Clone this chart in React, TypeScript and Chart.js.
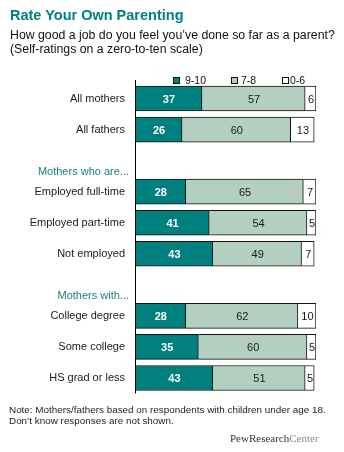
import React, { useEffect, useRef } from "react";
import { Chart, registerables } from "chart.js";

Chart.register(...registerables);

// ---- data ----
const categories = [
  "All mothers",
  "All fathers",
  "",
  "Employed full-time",
  "Employed part-time",
  "Not employed",
  "",
  "College degree",
  "Some college",
  "HS grad or less",
];
const sectionHeaders = ["", "", "Mothers who are...", "", "", "", "Mothers with...", "", "", ""];
const seriesNames = ["9-10", "7-8", "0-6"];
const rating9to10 = [37, 26, null, 28, 41, 43, null, 28, 35, 43];
const rating7to8 = [57, 60, null, 65, 54, 49, null, 62, 60, 51];
const rating0to6 = [6, 13, null, 7, 5, 7, null, 10, 5, 5];

const titleText = "Rate Your Own Parenting";
const subtitleLines = [
  "How good a job do you feel you\u2019ve done so far as a parent?",
  "(Self-ratings on a zero-to-ten scale)",
];
const noteLines = [
  "Note: Mothers/fathers based on respondents with children under age 18.",
  "Don\u2019t know responses are not shown.",
];

// ---- styles ----
const TEAL = "#007f7f";
const seriesColors = [TEAL, "#b3cfbf", "#ffffff"];
const valueColors = ["#ffffff", "#1a1a1a", "#1a1a1a"];
const legendBoxX = [173, 231, 282];
const legendTextX = [185, 241, 290];
const SANS = '"Liberation Sans", Arial, sans-serif';

const overlayPlugin = {
  id: "overlay",
  afterDatasetsDraw(chart: any) {
    const ctx = chart.ctx;
    const { left, top, bottom } = chart.chartArea;
    ctx.save();
    ctx.strokeStyle = "#000";
    ctx.lineWidth = 1;
    ctx.beginPath();
    ctx.moveTo(left + 0.5, top - 3);
    ctx.lineTo(left + 0.5, bottom);
    ctx.stroke();

    chart.data.datasets.forEach((ds: any, di: number) => {
      const meta = chart.getDatasetMeta(di);
      meta.data.forEach((el: any, i: number) => {
        const v = ds.data[i];
        if (v == null) return;
        const p = el.getProps(["x", "base", "y"], true);
        ctx.fillStyle = valueColors[di];
        ctx.font = (di === 0 ? "bold " : "") + "11px " + SANS;
        ctx.textAlign = "center";
        ctx.textBaseline = "middle";
        ctx.fillText(String(v), (p.x + p.base) / 2 + 0.5, p.y + 1);
      });
    });

    const yScale = chart.scales.y;
    ctx.fillStyle = "#1a8080";
    ctx.font = "11px " + SANS;
    ctx.textAlign = "right";
    ctx.textBaseline = "middle";
    sectionHeaders.forEach((h, i) => {
      if (!h) return;
      ctx.fillText(h, left - 6, yScale.getPixelForValue(i) + 11);
    });
    ctx.restore();
  },
};

export default function App() {
  const canvasRef = useRef<HTMLCanvasElement | null>(null);

  useEffect(() => {
    if (!canvasRef.current) return;
    const data = [rating9to10, rating7to8, rating0to6];
    const chart = new Chart(canvasRef.current, {
      type: "bar",
      data: {
        labels: categories,
        datasets: seriesNames.map((name, i) => ({
          label: name,
          data: data[i],
          backgroundColor: seriesColors[i],
          borderColor: "#111",
          borderWidth: 1,
          borderSkipped: i === 0 ? false : "start",
          barThickness: 25,
        })),
      } as any,
      options: {
        indexAxis: "y",
        responsive: false,
        devicePixelRatio: 1,
        animation: false,
        layout: { padding: { left: 0, top: 83, right: 28, bottom: 58.5 } },
        plugins: {
          legend: { display: false },
          tooltip: { enabled: false },
        },
        scales: {
          x: { stacked: true, min: 0, max: 100, display: false },
          y: {
            stacked: true,
            grid: { display: false, drawTicks: false },
            border: { display: false },
            ticks: {
              autoSkip: false,
              padding: 10,
              color: "#1a1a1a",
              font: { family: SANS, size: 11 },
            },
            afterFit: (scale: any) => {
              scale.width = 135;
            },
          },
        },
      } as any,
      plugins: [overlayPlugin],
    });
    return () => chart.destroy();
  }, []);

  return (
    <div
      style={{
        position: "absolute",
        left: 0,
        top: 0,
        width: 344,
        height: 452,
        background: "#fff",
        fontFamily: SANS,
        overflow: "hidden",
      }}
    >
      <canvas
        ref={canvasRef}
        width={344}
        height={452}
        style={{ position: "absolute", left: 0, top: 0 }}
      />
      <div
        style={{
          position: "absolute",
          left: 10,
          top: 7,
          fontSize: 14.5,
          lineHeight: "16px",
          fontWeight: "bold",
          color: TEAL,
          whiteSpace: "nowrap",
        }}
      >
        {titleText}
      </div>
      <div
        style={{
          position: "absolute",
          left: 10,
          top: 28,
          fontSize: 12.3,
          lineHeight: "14px",
          color: "#111",
          whiteSpace: "nowrap",
        }}
      >
        {subtitleLines.map((l, i) => (
          <div key={i}>{l}</div>
        ))}
      </div>
      {seriesNames.map((name, i) => (
        <React.Fragment key={name}>
          <div
            style={{
              position: "absolute",
              left: legendBoxX[i],
              top: 77,
              width: 5,
              height: 5,
              border: "1px solid #111",
              background: seriesColors[i],
            }}
          />
          <div
            style={{
              position: "absolute",
              left: legendTextX[i],
              top: 73,
              fontSize: 10.5,
              lineHeight: "14px",
              color: "#111",
              whiteSpace: "nowrap",
            }}
          >
            {name}
          </div>
        </React.Fragment>
      ))}
      <div
        style={{
          position: "absolute",
          left: 9,
          top: 405,
          fontSize: 9.9,
          lineHeight: "10.5px",
          color: "#222",
          whiteSpace: "nowrap",
        }}
      >
        {noteLines.map((l, i) => (
          <div key={i}>{l}</div>
        ))}
      </div>
      <div
        style={{
          position: "absolute",
          left: 230,
          top: 432,
          fontSize: 11,
          lineHeight: "12px",
          fontFamily: '"Liberation Serif", "Times New Roman", serif',
          color: "#333",
          whiteSpace: "nowrap",
        }}
      >
        PewResearch<span style={{ color: "#8a8a8a" }}>Center</span>
      </div>
    </div>
  );
}
